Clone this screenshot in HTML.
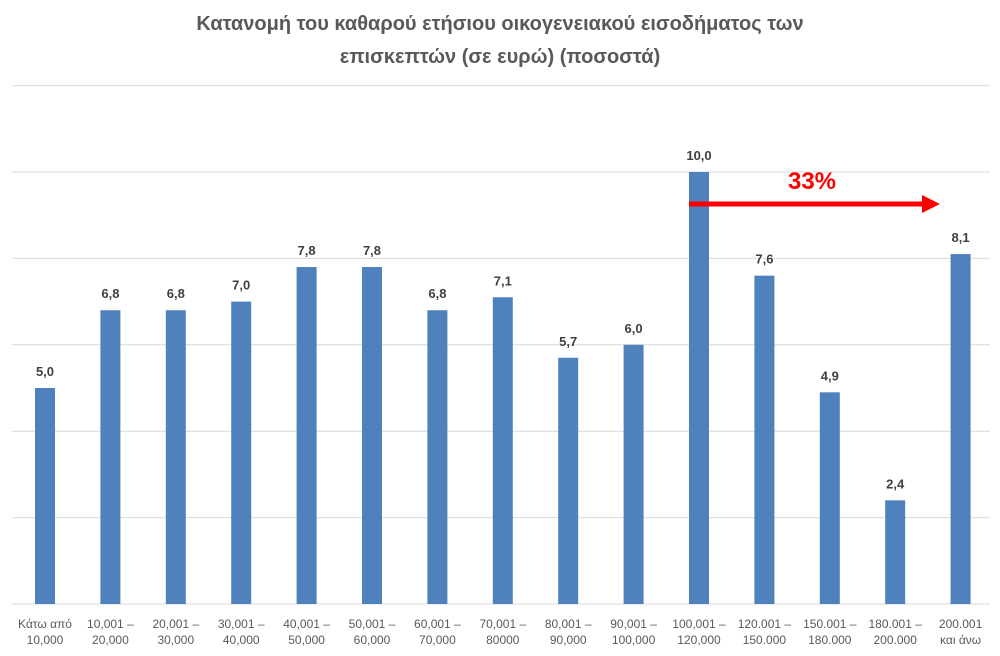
<!DOCTYPE html>
<html><head><meta charset="utf-8"><style>
body{margin:0;background:#fff;}
svg text{font-family:"Liberation Sans","DejaVu Sans",sans-serif;}
</style></head><body>
<svg width="1000" height="651" xmlns="http://www.w3.org/2000/svg">
<text x="500" y="30" text-anchor="middle" font-size="20" font-weight="bold" fill="#595959">Κατανομή του καθαρού ετήσιου οικογενειακού εισοδήματος των</text>
<text x="500" y="63" text-anchor="middle" font-size="20" font-weight="bold" fill="#595959">επισκεπτών (σε ευρώ) (ποσοστά)</text>
<g stroke="#d9d9d9" stroke-width="1">
<line x1="12" x2="990" y1="85.6" y2="85.6"/>
<line x1="12" x2="990" y1="172" y2="172"/>
<line x1="12" x2="990" y1="258.4" y2="258.4"/>
<line x1="12" x2="990" y1="344.8" y2="344.8"/>
<line x1="12" x2="990" y1="431.2" y2="431.2"/>
<line x1="12" x2="990" y1="517.6" y2="517.6"/>
<line x1="12" x2="990" y1="604" y2="604"/>
</g>
<g id="bars" fill="#4f81bd"></g>
<g id="vals" font-size="13" font-weight="bold" fill="#404040" text-anchor="middle"></g>
<g id="labs" font-size="12" fill="#595959" text-anchor="middle"></g>
<line x1="689" y1="204" x2="924" y2="204" stroke="#ff0000" stroke-width="5"/>
<polygon points="922,195 940,204 922,213" fill="#ff0000"/>
<text x="812" y="189" text-anchor="middle" font-size="24" font-weight="bold" fill="#ff0000">33%</text>
<script>
var v=[5.0,6.8,6.8,7.0,7.8,7.8,6.8,7.1,5.7,6.0,10.0,7.6,4.9,2.4,8.1];
var l=[["Κάτω από","10,000"],["10,001 –","20,000"],["20,001 –","30,000"],["30,001 –","40,000"],["40,001 –","50,000"],["50,001 –","60,000"],["60,001 –","70,000"],["70,001 –","80000"],["80,001 –","90,000"],["90,001 –","100,000"],["100,001 –","120,000"],["120.001 –","150.000"],["150.001 –","180.000"],["180.001 –","200.000"],["200.001","και άνω"]];
var ns="http://www.w3.org/2000/svg";
var b=document.getElementById("bars"),t=document.getElementById("vals"),lb=document.getElementById("labs");
for(var i=0;i<15;i++){var x=35+i*65.4,h=v[i]*43.2;
var r=document.createElementNS(ns,"rect");r.setAttribute("x",x);r.setAttribute("y",604-h);r.setAttribute("width",20);r.setAttribute("height",h);b.appendChild(r);
var tx=document.createElementNS(ns,"text");tx.setAttribute("x",x+10);tx.setAttribute("y",604-h-12);tx.textContent=v[i].toFixed(1).replace(".",",");t.appendChild(tx);
for(var k=0;k<2;k++){var a=document.createElementNS(ns,"text");a.setAttribute("x",x+10);a.setAttribute("y",628+k*16);a.textContent=l[i][k];lb.appendChild(a);}}
</script>
</svg>
</body></html>
